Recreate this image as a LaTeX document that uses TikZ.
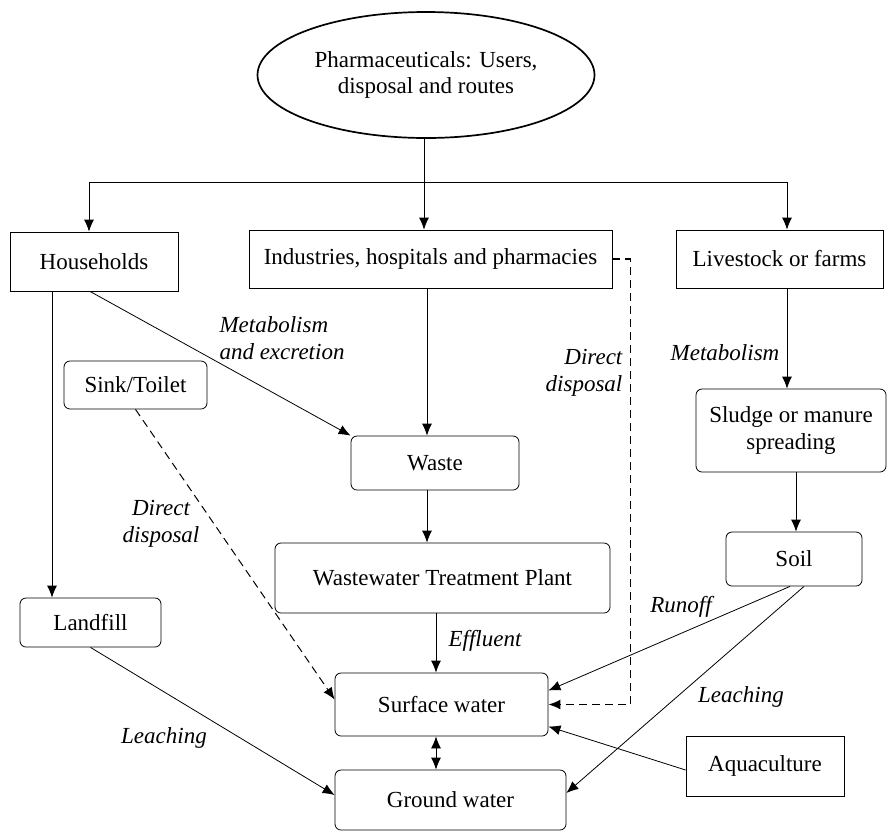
\documentclass[tikz,border=0pt]{standalone}
\usepackage{fontspec}
\setmainfont{Liberation Serif}
\usetikzlibrary{shapes.geometric,arrows.meta,calc}
\newcommand{\fsz}{\fontsize{23}{26.5}\selectfont}
\tikzset{
  ell/.style={ellipse, draw, line width=1.7pt, minimum width=337pt, minimum height=126pt, align=center, inner sep=0pt, font=\fsz},
  box/.style={draw, line width=0.8pt, inner sep=0pt, font=\fsz},
  rbox/.style={box, rounded corners=6pt},
  lbl/.style={font=\fsz\itshape, inner sep=0pt},
  ln/.style={line width=0.8pt},
  arr/.style={ln, -{Latex[length=12pt,width=10pt]}},
  darr/.style={ln, {Latex[length=12pt,width=10pt]}-{Latex[length=12pt,width=10pt]}},
  dsh/.style={dash pattern=on 8pt off 5pt}
}
\begin{document}
\begin{tikzpicture}[x=1pt,y=-1pt]
\useasboundingbox (0,0) rectangle (888,831);
\node[ell] (top) at (426,75) {Pharmaceuticals: Users,\\disposal and routes};
\node[box, minimum width=168pt, minimum height=59pt] (hh) at (94,261.5) {Households};
\node[box, minimum width=363pt, minimum height=58pt] (ind) at (430.5,259) {Industries, hospitals and pharmacies};
\node[box, minimum width=207pt, minimum height=58pt] (ls) at (779.5,259) {Livestock or farms};
\node[rbox, minimum width=143pt, minimum height=48pt] (sink) at (135.5,385) {Sink/Toilet};
\node[rbox, minimum width=168pt, minimum height=54pt] (waste) at (435,463) {Waste};
\node[rbox, minimum width=335pt, minimum height=70pt] (wtp) at (442.5,578) {Wastewater Treatment Plant};
\node[rbox, minimum width=141pt, minimum height=49pt] (lf) at (90.5,622.5) {Landfill};
\node[rbox, minimum width=190pt, minimum height=83pt, align=center] (sl) at (791,430.5) {Sludge or manure\\spreading};
\node[rbox, minimum width=136pt, minimum height=54pt] (soil) at (794,559) {Soil};
\node[rbox, minimum width=213pt, minimum height=63pt] (sw) at (441.5,704.5) {Surface water};
\node[rbox, minimum width=231pt, minimum height=60pt] (gw) at (450.5,800) {Ground water};
\node[box, minimum width=158pt, minimum height=60pt] (aq) at (765,766) {Aquaculture};

% labels
\node[lbl, align=left] (l1) at (282,338) {Metabolism\\and excretion};
\node[lbl, align=right] (l2) at (584,373) {Direct\\disposal};
\node[lbl] (l3) at (725,353) {Metabolism};
\node[lbl, align=center] (l4) at (161,524) {Direct\\disposal};
\node[lbl] (l5) at (485,641) {Effluent};
\node[lbl] (l6) at (681,607) {Runoff};
\node[lbl] (l7) at (741,697) {Leaching};
\node[lbl] (l8) at (164,738) {Leaching};

% top distribution
\coordinate (jn) at (424,182);
\coordinate (jl) at (89,182);
\coordinate (jr) at (787,182);
\draw[ln] (jn |- top.south) -- (jn);
\draw[ln] (jl) -- (jr);
\draw[arr] (jl) -- (jl |- hh.north);
\draw[arr] (jn) -- (jn |- ind.north);
\draw[arr] (jr) -- (jr |- ls.north);

% households
\draw[arr] ([xshift=-4pt]hh.south) -- (waste.north west);
\coordinate (a) at ([xshift=-42pt]hh.south);
\draw[arr] (a) -- (a |- lf.north);

% central column
\coordinate (b) at ([xshift=-3.5pt]ind.south);
\draw[arr] (b) -- (b |- waste.north);
\coordinate (c) at ([xshift=-8pt]waste.south);
\draw[arr] (c) -- (c |- wtp.north);
\coordinate (d) at ([xshift=-6.5pt]wtp.south);
\draw[arr] (d) -- (d |- sw.north);
\coordinate (e) at ([xshift=-5.5pt]sw.south);
\draw[darr] (e) -- (e |- gw.north);

% dashed
\coordinate (f) at ($(ind.east)+(18,0)$);
\draw[arr, dsh, line width=1.5pt] (ind.east) -- (f) -- (f |- sw.east) -- (sw.east);
\draw[arr, dsh, line width=1pt] (sink.south) -- ([yshift=5pt]sw.west);

% landfill
\draw[arr] (lf.south) -- ([yshift=5pt]gw.west);

% right column
\coordinate (g) at ([xshift=7.5pt]ls.south);
\draw[arr] (g) -- (g |- sl.north);
\coordinate (h) at ([xshift=5pt]sl.south);
\draw[arr] (h) -- (h |- soil.north);
\draw[arr] ([xshift=-4pt]soil.south) -- ([yshift=14pt]sw.east);
\draw[arr] ([xshift=10pt]soil.south) -- ([yshift=7pt]gw.east);
\draw[arr] ([yshift=-4pt]aq.west) -- ([yshift=-22pt]sw.east);
\end{tikzpicture}
\end{document}
